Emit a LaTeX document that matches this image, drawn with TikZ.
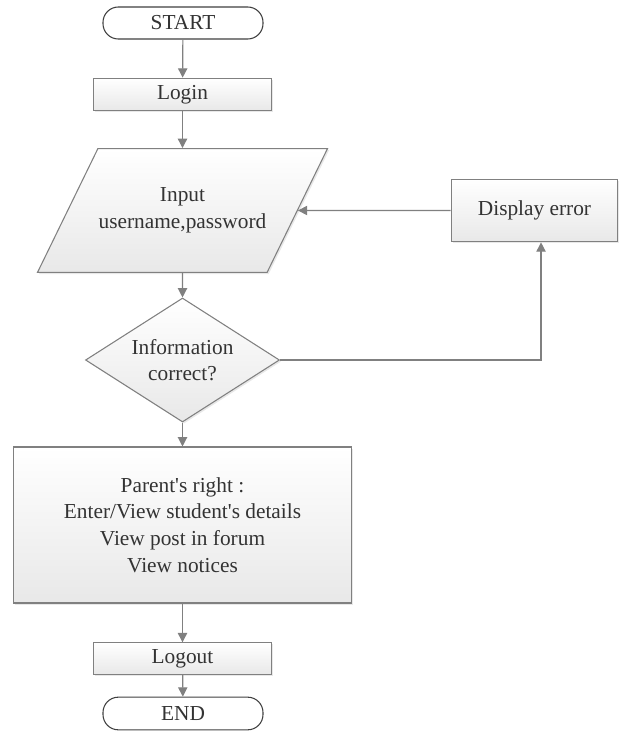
\documentclass[tikz,border=0pt]{standalone}
\usepackage{fontspec}
\setmainfont{Liberation Serif}
\usetikzlibrary{arrows.meta}
\usetikzlibrary{shapes.geometric}
\usetikzlibrary{shadows}
\definecolor{mline}{rgb}{0.5, 0.5, 0.5}
\definecolor{mtext}{rgb}{0.2, 0.2, 0.2}
\definecolor{mshade}{rgb}{0.91, 0.91, 0.91}
\tikzset{flowbox/.style = {draw=mline, line width=0.8pt, top color=white, bottom color=mshade,
                           drop shadow={shadow xshift=1.2pt, shadow yshift=-1.2pt, fill=black!18},
                           text=mtext, align=center, inner sep=0pt},
         terminal/.style = {draw=black!75, line width=0.8pt, fill=white, rounded corners=11.5pt,
                            text=mtext, inner sep=0pt},
         flow/.style = {draw=mline, line width=0.9pt, -{Triangle[length=7pt, width=7pt]}}}

\begin{document}
\begin{tikzpicture}[x=0.75pt, y=-0.75pt, font=\fontsize{16}{20}\selectfont]
    \useasboundingbox (0, 0) rectangle (619, 731);

    \node [terminal, minimum width=120pt, minimum height=24pt] (start) at (183, 23) {START};
    \node [flowbox, minimum width=134pt, minimum height=24.5pt] (login) at (182.5, 94.5) {Login};
    \node [flowbox, trapezium, trapezium left angle=64, trapezium right angle=116,
           trapezium stretches body, inner ysep=29.5pt, minimum width=217.5pt]
          (input) at (182.5, 210.5) {Input\\username,password};
    \node [flowbox, minimum width=125pt, minimum height=47pt] (err) at (534.5, 210.5) {Display error};
    \node [flowbox, diamond, aspect=1.56, minimum width=145.5pt, minimum height=93pt]
          (check) at (182.5, 360) {Information\\correct?};
    \node [flowbox, minimum width=254pt, minimum height=117pt] (rights) at (182.5, 525)
          {Parent\textquotesingle s right :\\Enter/View student\textquotesingle s details\\View post in forum\\View notices};
    \node [flowbox, minimum width=134pt, minimum height=23.5pt] (logout) at (182.5, 658.5) {Logout};
    \node [terminal, minimum width=120pt, minimum height=24.5pt] (stop) at (183, 713.5) {END};

    \draw [flow] (start) -- (login);
    \draw [flow] (login) -- (input);
    \draw [flow] (input) -- (check);
    \draw [flow] (check) -- (rights);
    \draw [flow] (rights) -- (logout);
    \draw [flow] (logout) -- (stop);
    \draw [flow] (err.west) -- (input.east);
    \draw [flow] (check.east) -| ([xshift=4.9pt]err.south);
\end{tikzpicture}
\end{document}
